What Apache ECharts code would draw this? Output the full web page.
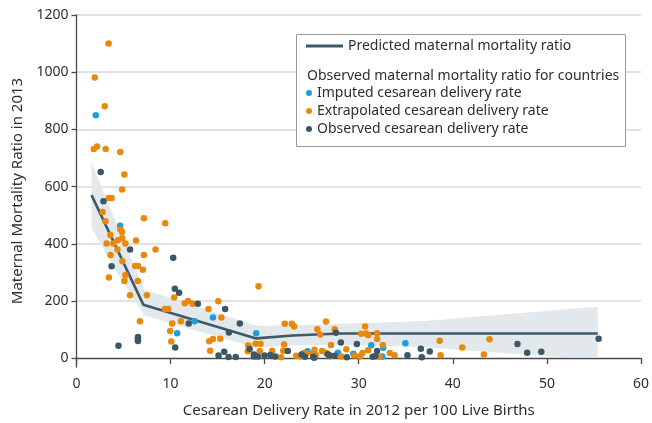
<!DOCTYPE html>
<html><head><meta charset="utf-8">
<script src="https://cdn.jsdelivr.net/npm/echarts@6/dist/echarts.min.js"></script>
<style>html,body{margin:0;padding:0;background:#fff}#c{width:652px;height:423px}</style>
</head><body><div id="c"></div>
<script>
// ---- data ----
const yTicks = [0, 200, 400, 600, 800, 1000, 1200];
const predX = [1.6, 7.1, 19.1, 23, 28, 55.4];
const predY = [570, 187, 69, 79, 86, 86];
const bandX = [1.6, 4, 7.2, 12, 19.1, 23.5, 30, 37, 45, 52.5, 55.4];
const bandHigh = [685, 490, 240, 190, 113, 115, 122, 130, 152, 172, 180];
const bandLow = [456, 315, 150, 103, 37, 46, 46, 38, 19, 2, 2];
const imputed = [[2.05,849],[4.64,463],[12.55,129],[14.5,142],[10.7,87],[19.1,87],[24.56,24],[27.78,19],[29.43,15],[31.33,45],[32.6,36],[32.5,6],[34.96,52]];
const observed = [[2.57,651],[2.87,549],[5.69,380],[10.28,351],[3.73,321],[10.45,243],[10.9,229],[12.9,190],[15.8,172],[11.93,121],[17.36,121],[16.2,90],[10.49,37],[6.53,74],[6.53,67],[6.53,60],[4.46,43],[15.1,9],[15.7,22],[16.16,4],[16.93,4],[18.4,32],[18.86,13],[18.86,6],[19.27,6],[19.98,9],[20.6,11],[21.13,6],[22.46,25],[23.93,13],[24.28,5],[25.16,5],[25.26,1],[26.7,14],[26.9,9],[27.44,8],[27.57,89],[28.1,55],[28.73,3],[29.8,49],[31.48,5],[31.76,7],[31.95,25],[35.18,10],[36.6,33],[36.7,3],[37.55,23],[46.87,49],[47.9,19],[49.4,22],[55.5,68]];
const extrapolated = [[3.41,1100],[1.94,981],[3.0,881],[1.84,731],[2.19,740],[3.1,731],[4.64,721],[5.09,642],[4.85,590],[3.45,560],[3.73,560],[2.78,511],[3.08,479],[7.16,489],[9.43,472],[4.67,450],[4.85,441],[3.6,431],[4.85,419],[4.39,412],[6.32,411],[3.2,401],[3.92,401],[5.2,401],[4.36,380],[8.4,380],[3.62,361],[7.16,361],[4.88,339],[6.24,322],[6.53,322],[7.06,309],[3.45,282],[5.2,291],[5.09,270],[6.53,270],[5.69,220],[7.48,220],[10.38,212],[11.5,192],[11.85,200],[12.34,190],[9.4,172],[9.75,172],[14.03,172],[15.07,199],[15.4,142],[6.74,129],[10.17,121],[11.1,129],[9.96,95],[10.07,58],[14.1,59],[14.5,67],[15.28,68],[14.2,26],[19.35,251],[18.25,44],[18.2,24],[19.03,50],[19.56,50],[19.47,25],[20.8,26],[21.74,3],[22.06,48],[21.97,26],[22.14,120],[22.88,120],[23.13,111],[23.35,8],[23.8,6],[24.18,18],[24.44,15],[25.13,16],[25.3,29],[25.44,11],[25.6,101],[25.9,83],[26.52,128],[26.1,25],[26.56,18],[26.8,12],[26.97,7],[27.45,101],[27.05,46],[28.15,6],[28.68,31],[29.55,9],[30.15,7],[30.4,18],[31.0,28],[30.68,111],[30.25,85],[30.75,86],[31.02,80],[31.95,87],[31.95,67],[32.56,46],[32.2,5],[33.3,18],[33.8,10],[38.6,61],[38.7,10],[41.0,37],[43.3,13],[43.9,66]];
const names = {
  pred: 'Predicted maternal mortality ratio',
  imp: 'Imputed cesarean delivery rate',
  ext: 'Extrapolated cesarean delivery rate',
  obs: 'Observed cesarean delivery rate',
  sub: 'Observed maternal mortality ratio for countries'
};
const xName = 'Cesarean Delivery Rate in 2012 per 100 Live Births';
const yName = 'Maternal Mortality Ratio in 2013';

// ---- style ----
const FONT = 'Noto Sans';
const TXT = '#2e2e2e';
const C_BLUE = '#1a9fdc', C_ORANGE = '#e8890c', C_DARK = '#3b5866', C_LINE = '#3d5a67', C_BAND = '#e3e8ec';

const chart = echarts.init(document.getElementById('c'), null, {renderer: 'canvas'});
chart.setOption({
  animation: false,
  textStyle: {fontFamily: FONT},
  grid: {left: 76.5, right: 4.5, top: 15, bottom: 55},
  xAxis: {
    type: 'value', min: 0, max: 60, interval: 10,
    name: xName, nameLocation: 'middle', nameGap: 36,
    nameTextStyle: {fontFamily: FONT, fontSize: 15, color: TXT},
    axisLine: {lineStyle: {color: '#4a4a4a', width: 1.3}},
    axisTick: {show: true, length: 6, lineStyle: {color: '#4a4a4a', width: 1.3}},
    axisLabel: {fontFamily: FONT, fontSize: 14, color: TXT, margin: 10},
    splitLine: {show: false}
  },
  yAxis: {
    type: 'value', min: -31, max: 1200,
    name: yName, nameLocation: 'middle', nameGap: 48,
    nameTextStyle: {fontFamily: FONT, fontSize: 15, color: TXT},
    axisLine: {show: true, lineStyle: {color: '#4a4a4a', width: 1.3}},
    axisTick: {show: true, length: 5, customValues: yTicks, lineStyle: {color: '#4a4a4a', width: 1.3}},
    axisLabel: {fontFamily: FONT, fontSize: 14, color: TXT, margin: 8, customValues: yTicks,
      formatter: v => String(Math.round(v))},
    splitLine: {show: true, showMinLine: false, lineStyle: {color: '#e2e2e2', width: 2}}
  },
  legend: [
    {
      data: [names.pred], left: 306, top: 39, orient: 'horizontal', z: 100, padding: 0,
      icon: 'rect', itemWidth: 37, itemHeight: 3, itemGap: 5, selectedMode: false,
      textStyle: {fontFamily: FONT, fontSize: 14, color: TXT}
    },
    {
      data: [names.imp, names.ext, names.obs], left: 306, top: 86, orient: 'vertical', z: 100, padding: 0,
      icon: 'circle', itemWidth: 6, itemHeight: 6, itemGap: 4, selectedMode: false,
      textStyle: {fontFamily: FONT, fontSize: 14, color: TXT}
    }
  ],
  graphic: [
    {type: 'rect', left: 296, top: 34, shape: {width: 329, height: 112}, style: {fill: '#fff', stroke: '#9a9a9a', lineWidth: 1}, z: 50},
    {type: 'text', left: 307, top: 69, style: {text: names.sub, fontFamily: FONT, fontSize: 14, fill: TXT}, z: 60}
  ],
  series: [
    {
      type: 'custom', name: 'band', silent: true, z: 1,
      data: [[bandX[0], bandHigh[0]]],
      renderItem: function (params, api) {
        const pts = [];
        for (let i = 0; i < bandX.length; i++) pts.push(api.coord([bandX[i], bandHigh[i]]));
        for (let i = bandX.length - 1; i >= 0; i--) pts.push(api.coord([bandX[i], bandLow[i]]));
        return {type: 'polygon', shape: {points: pts}, style: {fill: C_BAND}};
      }
    },
    {
      type: 'line', name: names.pred, z: 3,
      data: predX.map((x, i) => [x, predY[i]]),
      showSymbol: false, symbol: 'none',
      lineStyle: {color: C_LINE, width: 2.6}, itemStyle: {color: C_LINE}
    },
    {type: 'scatter', name: names.imp, z: 4, symbolSize: 6.5, data: imputed, itemStyle: {color: C_BLUE, opacity: 1}},
    {type: 'scatter', name: names.ext, z: 4, symbolSize: 6.5, data: extrapolated, itemStyle: {color: C_ORANGE, opacity: 1}},
    {type: 'scatter', name: names.obs, z: 4, symbolSize: 6.5, data: observed, itemStyle: {color: C_DARK, opacity: 1}}
  ]
});
</script></body></html>
